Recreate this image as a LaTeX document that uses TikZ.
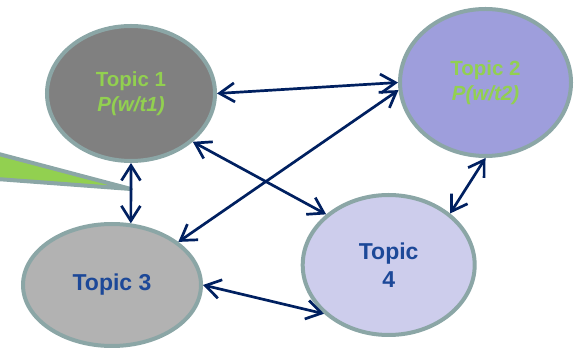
\documentclass[tikz,border=0pt]{standalone}
\usepackage{fontspec}
\setmainfont{Liberation Sans}
\usetikzlibrary{shapes.geometric,arrows.meta}
\definecolor{rimgray}{RGB}{139,166,166}
\definecolor{leafgreen}{RGB}{146,208,80}
\definecolor{linknavy}{RGB}{0,32,96}
\definecolor{inkblue}{RGB}{28,72,152}
\definecolor{fillone}{RGB}{128,128,128}
\definecolor{filltwo}{RGB}{158,158,220}
\definecolor{fillthree}{RGB}{178,178,178}
\definecolor{fillfour}{RGB}{205,205,236}
\tikzstyle{topic}=[ellipse,draw=rimgray,line width=4pt,inner sep=0pt,align=center]
\tikzstyle{greentext}=[text=leafgreen,font=\bfseries\fontsize{20.5}{24.5}\selectfont]
\tikzstyle{bluetext}=[text=inkblue,font=\bfseries\fontsize{23}{28}\selectfont]
\tikzstyle{link}=[<->,>={Straight Barb[length=15pt,width=19pt]},draw=linknavy,line width=2.7pt]

\begin{document}
\begin{tikzpicture}[x=1pt,y=1pt,link]
    \useasboundingbox (0,0) rectangle (575,350);

    % pointer wedge
    \draw[draw=rimgray,line width=4pt,fill=leafgreen,line join=round,-]
    (-10,198.3) -- (131,161) -- (-10,171.5) -- cycle;

    \node[topic,greentext,fill=fillone,minimum width=168pt,minimum height=135pt] (T1) at (131,256.5) {Topic 1\\\textit{P(w/t1)}};
    \node[topic,greentext,fill=filltwo,minimum width=171pt,minimum height=147pt] (T2) at (485.5,267.5) {Topic 2\\\textit{P(w/t2)}};
    \node[topic,bluetext,fill=fillthree,minimum width=178pt,minimum height=122pt] (T3) at (112,65) {Topic 3};
    \node[topic,bluetext,fill=fillfour,minimum width=172pt,minimum height=140pt] (T4) at (388.7,85) {Topic\\4};

    \path (T1.0) edge (T2.180)
    (T1.-38.5) edge (T4.141)
    (T1.south) edge (T3.73);

    \path (T2.185) edge (T3.33.5)
    (T2.south) edge (T4.40)
    (T3.0) edge (T4.-143);

\end{tikzpicture}
\end{document}
